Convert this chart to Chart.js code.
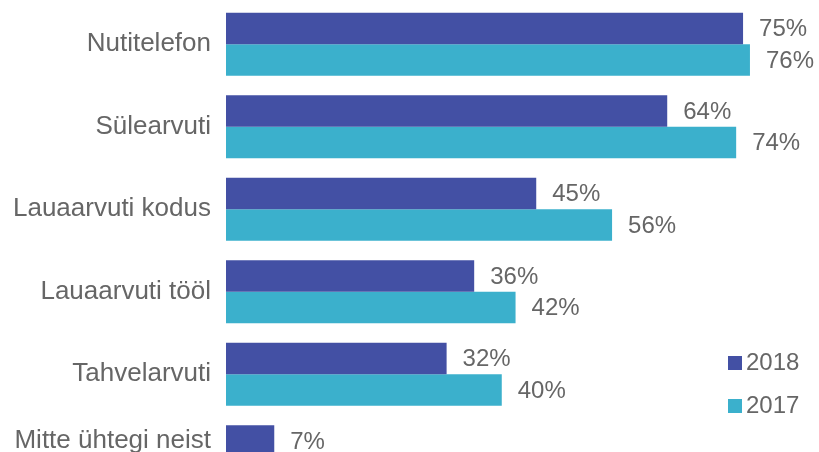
<!DOCTYPE html>
<html lang="et">
<head>
<meta charset="utf-8"/>
<title>Seadmed</title>
<script src="https://cdn.jsdelivr.net/npm/chart.js"></script>
<style>
    html, body {
      margin: 0;
      padding: 0;
      background: #fff;
      overflow: hidden;
    }
    #wrap {
      width: 819px;
      height: 500px;
    }
  </style>
</head>
<body>
<div id="wrap"><canvas id="chart" width="819" height="500"></canvas></div>
<script>
    // viimane silt kahel real, et tekst tõuseks ülemise tulba kõrvale
    const kategooriad = ["Nutitelefon", "Sülearvuti", "Lauaarvuti kodus", "Lauaarvuti tööl", "Tahvelarvuti", ["Mitte ühtegi neist", ""]];
    const aasta2018 = [75, 64, 45, 36, 32, 7];
    const aasta2017 = [76, 74, 56, 42, 40, null];
    const seeriad = ["2018", "2017"];
    const varvid = ["#4350a4", "#3bb0cc"];
    const tekstiVarv = "#666666";
    const font = "Liberation Sans, Arial, sans-serif";

    // protsendid tulba otsa
    const vaartused = {
      id: 'vaartused',
      afterDatasetsDraw(chart) {
        const ctx = chart.ctx;
        ctx.save();
        ctx.font = "24px " + font;
        ctx.fillStyle = tekstiVarv;
        ctx.textAlign = "left";
        ctx.textBaseline = "middle";
        chart.data.datasets.forEach((ds, i) => {
          chart.getDatasetMeta(i).data.forEach((bar, j) => {
            if (ds.data[j] == null) return;
            ctx.fillText(ds.data[j] + "%", bar.x + 16, bar.y + 1);
          });
        });
        ctx.restore();
      }
    };

    // legend paremal all
    const legend = {
      id: 'legend',
      afterDraw(chart) {
        const ctx = chart.ctx;
        ctx.save();
        ctx.font = "24px " + font;
        ctx.textAlign = "left";
        ctx.textBaseline = "middle";
        seeriad.forEach((s, i) => {
          const y = 363 + i * 43;
          ctx.fillStyle = varvid[i];
          ctx.fillRect(728, y - 7, 14, 14);
          ctx.fillStyle = tekstiVarv;
          ctx.fillText(s, 746, y);
        });
        ctx.restore();
      }
    };

    new Chart(document.getElementById("chart").getContext("2d"), {
      type: 'bar',
      data: {
        labels: kategooriad,
        datasets: [
          { label: seeriad[0], data: aasta2018, backgroundColor: varvid[0] },
          { label: seeriad[1], data: aasta2017, backgroundColor: varvid[1] }
        ]
      },
      options: {
        indexAxis: 'y',
        responsive: false,
        animation: false,
        categoryPercentage: 0.764,
        barPercentage: 1.0,
        layout: { padding: { top: 3, bottom: 2, right: 7, left: 0 } },
        plugins: { legend: { display: false }, tooltip: { enabled: false } },
        scales: {
          x: { display: false, min: 0, max: 85 },
          y: {
            grid: { display: false, drawTicks: false },
            border: { display: false },
            ticks: { color: tekstiVarv, font: { family: font, size: 26 }, padding: 15 },
            afterFit(scale) {
              scale.width = 226;
              scale.paddingTop = 0;
              scale.paddingBottom = 0;
            }
          }
        }
      },
      plugins: [vaartused, legend]
    });
</script>
</body>
</html>
